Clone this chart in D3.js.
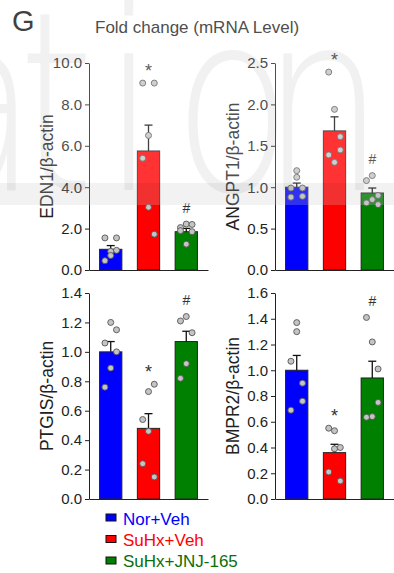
<!DOCTYPE html>
<html>
<head>
<meta charset="utf-8">
<script src="https://cdn.jsdelivr.net/npm/d3@7"></script>
<style>
  body { margin: 0; background: #fff; }
  svg { font-family: "Liberation Sans", Arial, sans-serif; display: block; }
</style>
</head>
<body>
<div id="chart"></div>
<script>
// groups and colours
const groups = ["Nor+Veh", "SuHx+Veh", "SuHx+JNJ-165"];
const groupColors = ["#0000ff", "#ff0000", "#008000"];
const legendColors = ["#0000ff", "#ff0000", "#0a6e0a"];

// EDN1 / beta-actin
const edn1Mean = [1.0, 5.75, 1.85];
const edn1Sem = [0.18, 1.25, 0.16];
const edn1Dots = [[1.55, 1.55, 0.95, 0.9, 0.7, 0.45], [9.03, 9.03, 6.5, 5.4, 3.03, 1.73], [2.05, 2.22, 2.2, 1.9, 1.85, 1.25]];
const edn1Cols = [[-1, 1, 1, 0, 0, -1], [-1, 1, 0, -1, 0, 1], [-1, 0, 1, -1, 1, 0]];

// ANGPT1 / beta-actin
const angpt1Mean = [1.0, 1.68, 0.93];
const angpt1Sem = [0.05, 0.17, 0.06];
const angpt1Dots = [[1.2, 1.12, 0.99, 0.99, 0.88, 0.89], [2.39, 1.94, 1.61, 1.39, 1.45, 1.3], [1.08, 1.14, 0.9, 0.81, 0.85, 0.79]];
const angpt1Cols = [[0, 0, -1, 1, -1, 1], [-1, 0, 1, -1, 1, 0], [-1, 0, 1, -1, 0, 1]];

// PTGIS / beta-actin
const ptgisMean = [1.0, 0.48, 1.07];
const ptgisSem = [0.07, 0.1, 0.07];
const ptgisDots = [[1.2, 1.15, 1.06, 1.0, 0.89, 0.76], [0.78, 0.73, 0.54, 0.46, 0.24, 0.15], [1.24, 1.21, 1.13, 0.92, 0.82]];
const ptgisCols = [[0, 1, -1, 1, 0, -1], [1, 0, -1, 0, -1, 1], [0, -1, 1, 0, -1]];

// BMPR2 / beta-actin
const bmpr2Mean = [1.0, 0.36, 0.94];
const bmpr2Sem = [0.115, 0.065, 0.13];
const bmpr2Dots = [[1.37, 1.3, 1.07, 0.9, 0.76, 0.69], [0.55, 0.53, 0.39, 0.4, 0.21, 0.14], [1.41, 1.22, 1.01, 0.75, 0.64, 0.635]];
const bmpr2Cols = [[0, 0, -1, 1, 1, -1], [-1, 0, 0, 1, -1, 1], [-1, 0, 1, 1, 0, -1]];

const yMax = [10, 2.5, 1.4, 1.6];
const yStep = [2, 0.5, 0.2, 0.2];

// background watermark letters
const wmLetters = ["a", "t", "i", "o", "n"];

const width = 394, height = 573;

const svg = d3.select("#chart").append("svg")
  .attr("width", width)
  .attr("height", height);

const panels = [
  {label: "EDN1", mean: edn1Mean, sem: edn1Sem, dots: edn1Dots, cols: edn1Cols, left: 89, top: 63, bottom: 270},
  {label: "ANGPT1", mean: angpt1Mean, sem: angpt1Sem, dots: angpt1Dots, cols: angpt1Cols, left: 275, top: 63, bottom: 270},
  {label: "PTGIS", mean: ptgisMean, sem: ptgisSem, dots: ptgisDots, cols: ptgisCols, left: 89, top: 293, bottom: 499},
  {label: "BMPR2", mean: bmpr2Mean, sem: bmpr2Sem, dots: bmpr2Dots, cols: bmpr2Cols, left: 275, top: 293, bottom: 499}
];

panels.forEach((p, i) => {
  const y = d3.scaleLinear().domain([0, yMax[i]]).range([p.bottom, p.top]);
  const x = d3.scaleBand().domain(groups)
    .range([p.left, p.left + 119])
    .paddingInner(0.41)
    .paddingOuter(0.28);
  const bw = x.bandwidth();

  const g = svg.append("g");

  // bars
  g.selectAll("rect.bar")
    .data(groups)
    .enter().append("rect")
    .attr("class", "bar")
    .attr("x", d => x(d))
    .attr("y", (d, j) => y(p.mean[j]))
    .attr("width", bw)
    .attr("height", (d, j) => y(0) - y(p.mean[j]))
    .attr("fill", (d, j) => groupColors[j])
    .attr("stroke", "#222")
    .attr("stroke-width", 1);

  // error bars (upper only)
  groups.forEach((grp, j) => {
    const cx = x(grp) + bw / 2;
    const top = y(p.mean[j] + p.sem[j]);
    g.append("line")
      .attr("x1", cx).attr("x2", cx)
      .attr("y1", y(p.mean[j])).attr("y2", top)
      .attr("stroke", "#111").attr("stroke-width", 1.3);
    g.append("line")
      .attr("x1", cx - 4).attr("x2", cx + 4)
      .attr("y1", top).attr("y2", top)
      .attr("stroke", "#111").attr("stroke-width", 1.3);
  });

  // individual points
  groups.forEach((grp, j) => {
    const cx = x(grp) + bw / 2;
    g.selectAll("circle.g" + j)
      .data(p.dots[j])
      .enter().append("circle")
      .attr("cx", (d, k) => cx + p.cols[j][k] * bw * 0.26)
      .attr("cy", d => y(d))
      .attr("r", 3)
      .attr("fill", "#c4c4c4")
      .attr("stroke", "#555")
      .attr("stroke-width", 0.9);
  });

  // significance marks
  const marks = [null, "*", "#"];
  groups.forEach((grp, j) => {
    if (!marks[j]) return;
    const top = d3.max(p.dots[j]) + yMax[i] * 0.075;
    g.append("text")
      .attr("x", x(grp) + bw / 2)
      .attr("y", y(top) + (marks[j] === "*" ? 9 : 4))
      .attr("text-anchor", "middle")
      .attr("font-size", marks[j] === "*" ? 18 : 14)
      .attr("fill", "#333")
      .text(marks[j]);
  });

  // y axis
  const yAxis = d3.axisLeft(y)
    .tickValues(d3.range(0, yMax[i] + 1e-9, yStep[i]))
    .tickFormat(d3.format(".1f"))
    .tickSize(4)
    .tickSizeOuter(0)
    .tickPadding(3);
  const ya = g.append("g")
    .attr("transform", "translate(" + p.left + ",0)")
    .call(yAxis);
  ya.selectAll("text").attr("font-size", 15).attr("fill", "#222")
    .attr("font-family", "'Liberation Sans', Arial, sans-serif");
  ya.selectAll("line, path").attr("stroke", "#222");

  // x axis line only
  const xAxis = d3.axisBottom(x).tickSize(0).tickSizeOuter(0).tickFormat("");
  const xa = g.append("g")
    .attr("transform", "translate(0," + p.bottom + ")")
    .call(xAxis);
  xa.select("path").attr("stroke", "#222");

  // y label
  g.append("text")
    .attr("transform", "translate(" + (p.left - 36) + "," + ((p.top + p.bottom) / 2) + ") rotate(-90)")
    .attr("text-anchor", "middle")
    .attr("font-size", 17.5)
    .attr("fill", "#222")
    .text(p.label + "/β-actin");
});

// legend
const legend = svg.append("g");
groups.forEach((grp, j) => {
  legend.append("rect")
    .attr("x", 106).attr("y", 514 + j * 21.5)
    .attr("width", 10).attr("height", 7)
    .attr("fill", groupColors[j])
    .attr("stroke", "#111").attr("stroke-width", 1);
  legend.append("text")
    .attr("x", 123).attr("y", 525 + j * 21)
    .attr("font-size", 17)
    .attr("fill", legendColors[j])
    .text(grp);
});

// titles
svg.append("text")
  .attr("x", 12).attr("y", 31)
  .attr("font-size", 29)
  .attr("fill", "#111")
  .text("G");
svg.append("text")
  .attr("x", 95).attr("y", 33)
  .attr("font-size", 17)
  .attr("fill", "#222")
  .text("Fold change (mRNA Level)");

// faint watermark on top
svg.append("clipPath").attr("id", "wmclip")
  .append("rect").attr("x", 0).attr("y", 0).attr("width", width).attr("height", 205);
const wm = svg.append("g").attr("clip-path", "url(#wmclip)");
wm.append("rect")
  .attr("x", 0).attr("y", 0).attr("width", width).attr("height", 205)
  .attr("fill", "#fff").attr("opacity", 0.2);
wm.append("rect")
  .attr("x", 0).attr("y", 183).attr("width", width).attr("height", 22)
  .attr("fill", "#000").attr("opacity", 0.05);
const wmX = d3.scalePoint().domain(wmLetters).range([-22, 323]);
const wmShift = {a: 0, t: -8, i: -21, o: -4, n: 0};
wm.selectAll("text.wm")
  .data(wmLetters)
  .enter().append("text")
  .attr("class", "wm")
  .attr("transform", d => "translate(" + (wmX(d) + wmShift[d]) + ",190) scale(0.78,1)")
  .attr("text-anchor", "middle")
  .attr("font-family", "'DejaVu Sans', sans-serif")
  .attr("font-weight", 200)
  .attr("font-size", 250)
  .attr("fill", "#000")
  .attr("opacity", 0.05)
  .text(d => d);
</script>
</body>
</html>
